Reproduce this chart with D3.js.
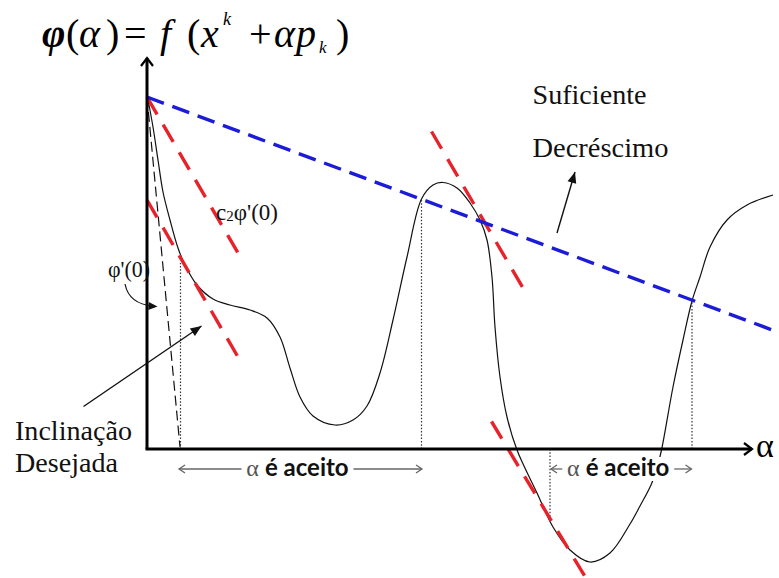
<!DOCTYPE html>
<html>
<head>
<meta charset="utf-8">
<script src="https://cdn.jsdelivr.net/npm/d3@7"></script>
<style>
  html, body { margin: 0; padding: 0; background: #fff; }
  svg { display: block; }
  svg text { font-family: "Liberation Serif", "Times New Roman", "DejaVu Serif"; }
  svg text tspan.sans { font-family: "Lato", "Open Sans", "Liberation Sans"; }
</style>
</head>
<body>
<svg id="chart" width="779" height="578"></svg>
<script>
// φ(α) along the search direction (α, φ in plot units)
const curveAlpha = [0.01, 0.12, 0.22, 0.32, 0.46, 0.62, 0.76, 1.00, 1.32, 1.66, 2.06, 2.40, 2.66, 2.86, 3.06, 3.32, 3.76, 4.12, 4.40, 4.66, 4.92, 5.20, 5.49, 5.72, 5.92, 6.20, 6.46, 6.66, 6.80, 6.90, 6.96, 7.06, 7.20, 7.40, 7.80, 8.12, 8.46, 8.86, 9.26, 9.66, 9.86, 10.08, 10.20, 10.29, 10.52, 10.72, 10.90, 11.06, 11.26, 11.60, 12.00, 12.52];
const curvePhi   = [7.04, 6.44, 5.78, 5.14, 4.58, 4.02, 3.68, 3.28, 3.00, 2.88, 2.78, 2.62, 2.24, 1.62, 1.04, 0.66, 0.48, 0.58, 0.86, 1.52, 2.58, 3.84, 5.00, 5.28, 5.33, 5.22, 4.92, 4.58, 4.18, 3.44, 2.44, 1.44, 0.64, -0.02, -0.88, -1.56, -2.02, -2.26, -2.08, -1.50, -1.14, -0.72, -0.38, -0.02, 1.24, 2.18, 2.96, 3.44, 4.04, 4.58, 4.88, 5.08];

// sufficient decrease line φ(0) + c1 α φ'(0)
const armijoAlpha = [0, 12.56];
const armijoPhi   = [7.04, 2.36];

// tangent φ'(0) at α = 0
const slopeAlpha = [0, 0.66];
const slopePhi   = [7.04, 0.04];

// segments with slope c2 φ'(0): [α0, φ0, α1, φ1]
const curvatureSegments = [
  [0.00, 7.04, 1.82, 3.92],
  [0.00, 4.98, 1.82, 1.84],
  [5.69, 6.35, 7.52, 3.22],
  [6.89, 0.55, 8.76, -2.55]
];

// interval ends where α is accepted
const markAlpha = [0.67, 5.49, 8.06, 10.90];
const markPhi   = [3.72, 5.00, -1.42, 2.96];
const acceptIntervals = [[0.64, 5.50], [8.08, 10.89]];
const acceptText = ["α", "é aceito"];

const SERIF = '"Liberation Serif", "Times New Roman", "DejaVu Serif"';
const SANS = '"Lato", "Open Sans", "Liberation Sans"';

const svg = d3.select("#chart").style("font-family", SERIF);
const xs = d3.scaleLinear().domain([0, 12.1]).range([147, 752]);
const ys = d3.scaleLinear().domain([0, 7.82]).range([449, 58]);

// head of an arrow ending at (x1,y1) coming from (x0,y0)
function headPath(x0, y0, x1, y1, len, half) {
  const ang = Math.atan2(y1 - y0, x1 - x0);
  const bx = x1 - len * Math.cos(ang), by = y1 - len * Math.sin(ang);
  const px = -Math.sin(ang) * half, py = Math.cos(ang) * half;
  return `M${bx + px},${by + py}L${x1},${y1}L${bx - px},${by - py}`;
}

const marks = svg.append("g");

// curve
const curveLine = d3.line().x(d => xs(d[0])).y(d => ys(d[1])).curve(d3.curveCatmullRom.alpha(0.5));
marks.append("path")
  .datum(curveAlpha.map((a, i) => [a, curvePhi[i]]))
  .attr("d", curveLine)
  .attr("fill", "none").attr("stroke", "#111").attr("stroke-width", 1.2);

// dotted verticals at accepted interval ends
marks.selectAll("line.mark").data(markAlpha).join("line")
  .attr("x1", d => xs(d)).attr("x2", d => xs(d))
  .attr("y1", ys(0)).attr("y2", (d, i) => ys(markPhi[i]))
  .attr("stroke", "#333").attr("stroke-width", 1.2).attr("stroke-dasharray", "1.5,1.8");

// tangent φ'(0)
marks.append("line")
  .attr("x1", xs(slopeAlpha[0])).attr("y1", ys(slopePhi[0]))
  .attr("x2", xs(slopeAlpha[1])).attr("y2", ys(slopePhi[1]))
  .attr("stroke", "#111").attr("stroke-width", 1.2).attr("stroke-dasharray", "10,5");

// curvature condition slopes
marks.selectAll("line.curv").data(curvatureSegments).join("line")
  .attr("x1", d => xs(d[0])).attr("y1", d => ys(d[1]))
  .attr("x2", d => xs(d[2])).attr("y2", d => ys(d[3]))
  .attr("stroke", "#e8222a").attr("stroke-width", 3.4).attr("stroke-dasharray", "20,12");

// sufficient decrease line
marks.append("line")
  .attr("x1", xs(armijoAlpha[0])).attr("y1", ys(armijoPhi[0]))
  .attr("x2", xs(armijoAlpha[1])).attr("y2", ys(armijoPhi[1]))
  .attr("stroke", "#1c1cd8").attr("stroke-width", 3.4).attr("stroke-dasharray", "18,9");

// axes
const axes = svg.append("g").attr("stroke", "#000").attr("fill", "none");
axes.append("line").attr("x1", xs(0)).attr("y1", ys(0)).attr("x2", xs(0)).attr("y2", ys(7.82)).attr("stroke-width", 3);
axes.append("line").attr("x1", xs(0) - 1.5).attr("y1", ys(0)).attr("x2", xs(12.1)).attr("y2", ys(0)).attr("stroke-width", 3);
axes.append("path").attr("d", headPath(xs(0), ys(0), xs(0), ys(7.82), 8, 6)).attr("stroke-width", 2.2);
axes.append("path").attr("d", headPath(xs(0), ys(0), xs(12.1), ys(0), 8, 6)).attr("stroke-width", 2.2);
svg.append("text").style("font-family", SERIF).attr("x", xs(12.18)).attr("y", ys(0) + 8)
  .attr("font-size", 34).text("α");

// acceptance intervals: label centred between the ends, arrows out to both ends
const acc = svg.append("g");
const labelHalf = 56;
acceptIntervals.forEach(([a0, a1]) => {
  const cx = (xs(a0) + xs(a1)) / 2 - 3;
  const ty = ys(0) + 27;
  const my = ty - 7;
  acc.append("rect").attr("x", cx - labelHalf).attr("y", ty - 19).attr("width", 2 * labelHalf).attr("height", 24).attr("fill", "#fff");
  const t = acc.append("text").attr("x", cx).attr("y", ty).attr("text-anchor", "middle").style("font-family", SERIF);
  t.append("tspan").style("font-family", SERIF).attr("font-size", 24).attr("fill", "#555").text(acceptText[0] + " ");
  t.append("tspan").attr("class", "sans").style("font-family", SANS).attr("font-weight", "bold")
    .attr("font-size", 24).attr("fill", "#111").text(acceptText[1]);
  acc.append("line").attr("x1", xs(a0)).attr("x2", cx - labelHalf).attr("y1", my).attr("y2", my)
    .attr("stroke", "#666").attr("stroke-width", 1.3);
  acc.append("line").attr("x1", cx + labelHalf).attr("x2", xs(a1)).attr("y1", my).attr("y2", my)
    .attr("stroke", "#666").attr("stroke-width", 1.3);
  acc.append("path").attr("d", headPath(xs(a0) + 10, my, xs(a0), my, 6, 4)).attr("fill", "none").attr("stroke", "#666").attr("stroke-width", 1.3);
  acc.append("path").attr("d", headPath(xs(a1) - 10, my, xs(a1), my, 6, 4)).attr("fill", "none").attr("stroke", "#666").attr("stroke-width", 1.3);
});

// annotations
const ann = svg.append("g");
function arrow(a0, p0, a1, p1) {
  const X0 = xs(a0), Y0 = ys(p0), X1 = xs(a1), Y1 = ys(p1);
  ann.append("line").attr("x1", X0).attr("y1", Y0).attr("x2", X1).attr("y2", Y1)
    .attr("stroke", "#111").attr("stroke-width", 1.4);
  ann.append("path").attr("d", headPath(X0, Y0, X1, Y1, 11, 4.5) + "Z").attr("fill", "#111");
}
arrow(8.20, 4.32, 8.56, 5.54);
arrow(-1.27, 0.85, 1.09, 2.46);

// curved pointer to φ'(0) tangent
ann.append("path")
  .attr("d", `M${xs(-0.44)},${ys(3.30)} Q${xs(-0.36)},${ys(2.90)} ${xs(0.12)},${ys(2.86)}`)
  .attr("fill", "none").attr("stroke", "#111").attr("stroke-width", 1.2);
ann.append("path").attr("d", headPath(xs(-0.1), ys(2.87), xs(0.21), ys(2.85), 9, 4) + "Z").attr("fill", "#111");

const textBlock = [
  { t: "Suficiente", a: 7.71, p: 6.91, size: 27, len: 114 },
  { t: "Decréscimo", a: 7.71, p: 5.85, size: 28, len: 136 },
  { t: "Inclinação", a: -2.64, p: 0.18, size: 27, len: 117 },
  { t: "Desejada", a: -2.64, p: -0.46, size: 27, len: 103 },
  { t: "φ'(0)", a: -0.78, p: 3.44, size: 23, len: 42 }
];
ann.selectAll("text.lab").data(textBlock).join("text")
  .style("font-family", SERIF)
  .attr("x", d => xs(d.a)).attr("y", d => ys(d.p))
  .attr("font-size", d => d.size)
  .attr("textLength", d => d.len).attr("lengthAdjust", "spacingAndGlyphs")
  .attr("fill", "#111").text(d => d.t);

const c2 = ann.append("text").style("font-family", SERIF).attr("x", xs(1.38)).attr("y", ys(4.58))
  .attr("font-size", 23).attr("fill", "#111");
c2.append("tspan").text("c");
c2.append("tspan").attr("font-size", 15).attr("dy", 1).text("2");
c2.append("tspan").attr("dy", -1).text("φ'(0)");

// title formula
const title = svg.append("text").style("font-family", SERIF).attr("y", 47).attr("font-size", 40).attr("fill", "#000");
const parts = [
  { t: "φ", x: 42, style: "italic", weight: "bold" },
  { t: "(", x: 66 },
  { t: "α", x: 79, style: "italic" },
  { t: ")", x: 106 },
  { t: "=", x: 124 },
  { t: "f", x: 160, style: "italic" },
  { t: "(", x: 187 },
  { t: "x", x: 201, style: "italic" },
  { t: "k", x: 223, style: "italic", size: 18, dy: -22 },
  { t: "+", x: 249, dy: 22 },
  { t: "α", x: 274, style: "italic" },
  { t: "p", x: 296, style: "italic" },
  { t: "k", x: 319, style: "italic", size: 17, dy: 6 },
  { t: ")", x: 336, dy: -6 }
];
parts.forEach(d => {
  const s = title.append("tspan").attr("x", d.x).text(d.t);
  if (d.style) s.attr("font-style", d.style);
  if (d.weight) s.attr("font-weight", d.weight);
  if (d.size) s.attr("font-size", d.size);
  if (d.dy) s.attr("dy", d.dy);
});
</script>
</body>
</html>
